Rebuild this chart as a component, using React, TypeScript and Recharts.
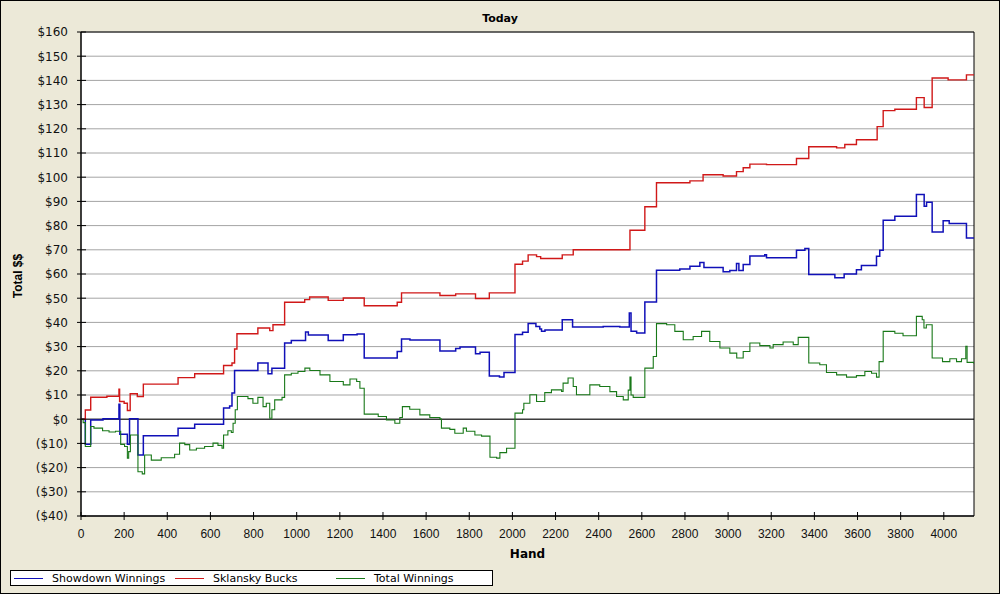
import { LineChart, Line, XAxis, YAxis, CartesianGrid, ReferenceLine, ReferenceArea } from "recharts";

// Showdown Winnings (blue)
const showdownHands = [0, 20, 45, 102, 176, 180, 215, 225, 264, 289, 450, 527, 661, 689, 700, 712, 820, 867, 885, 944, 975, 1041, 1054, 1146, 1216, 1280, 1313, 1466, 1486, 1525, 1664, 1737, 1757, 1829, 1850, 1893, 1940, 1961, 2012, 2047, 2073, 2109, 2127, 2135, 2151, 2231, 2279, 2421, 2498, 2542, 2550, 2576, 2614, 2668, 2776, 2823, 2869, 2888, 2977, 3008, 3039, 3050, 3070, 3101, 3170, 3178, 3317, 3356, 3374, 3495, 3538, 3595, 3618, 3688, 3703, 3719, 3773, 3873, 3909, 3920, 3946, 3997, 4025, 4105, 4140];
const showdownValues = [0, -10.4, -0.3, 0.2, 6.2, -6.2, -10.4, 0.2, -14.8, -6.8, -3.7, -2.1, 4.6, 5.5, 10.8, 20.1, 23.2, 18.8, 21.1, 31.5, 32.5, 36, 34.8, 32.5, 34.9, 35.2, 25.3, 28, 33.1, 32.7, 28.2, 29.2, 29.8, 27, 27.7, 17.8, 17.4, 19.3, 35, 35.9, 39.5, 38.3, 37.3, 36.3, 36.9, 41.1, 38.1, 38.3, 38.1, 43.9, 36.3, 35.6, 48.4, 61.5, 62.1, 63.2, 64.8, 62.7, 60.9, 61.4, 64.3, 61.4, 63.9, 67.4, 68, 66.7, 69.8, 70.5, 59.8, 58.4, 60, 61.8, 63.5, 67.3, 69.8, 82.2, 83.9, 92.9, 88, 89.7, 77.4, 82, 80.9, 74.9, 74.9];

// Sklansky Bucks (red)
const sklanskyHands = [0, 20, 45, 120, 176, 179, 200, 215, 228, 261, 289, 450, 527, 661, 700, 712, 723, 820, 875, 890, 944, 1037, 1060, 1146, 1216, 1313, 1466, 1486, 1664, 1737, 1829, 1893, 2012, 2047, 2073, 2112, 2131, 2231, 2282, 2545, 2614, 2668, 2823, 2884, 2977, 3039, 3070, 3101, 3178, 3317, 3374, 3503, 3541, 3595, 3691, 3719, 3773, 3873, 3909, 3946, 4020, 4105, 4140];
const sklanskyValues = [0, 3.8, 9.1, 9.5, 12.4, 7.3, 6.6, 3.6, 10.5, 9.4, 14.5, 17.2, 18.8, 22.2, 23.2, 29, 35.3, 37.7, 36.6, 39, 48.3, 49.4, 50.5, 49.1, 50.1, 46.9, 48.3, 52.2, 51.1, 51.8, 49.9, 52.2, 64, 65.3, 67.9, 67.2, 66.4, 67.9, 70, 78.1, 87.8, 97.7, 98.5, 101, 100.5, 102.3, 103.9, 105.4, 105.2, 107.7, 112.6, 112.1, 113.5, 115.5, 120.9, 127.5, 128.1, 132.9, 128.8, 141, 140.2, 142.3, 142.3];

// Total Winnings (green)
const totalHands = [0, 10, 20, 45, 60, 100, 130, 160, 184, 202, 215, 221, 229, 264, 284, 295, 326, 372, 434, 457, 481, 504, 535, 573, 612, 635, 654, 661, 681, 697, 705, 715, 725, 751, 774, 797, 820, 844, 859, 875, 885, 898, 932, 944, 975, 1006, 1038, 1061, 1108, 1154, 1216, 1247, 1278, 1293, 1313, 1378, 1416, 1455, 1478, 1490, 1524, 1571, 1617, 1664, 1671, 1710, 1733, 1772, 1787, 1826, 1857, 1896, 1927, 1942, 1973, 2012, 2047, 2053, 2081, 2112, 2150, 2181, 2228, 2235, 2258, 2282, 2297, 2359, 2405, 2452, 2483, 2514, 2537, 2545, 2550, 2560, 2614, 2653, 2668, 2715, 2753, 2792, 2838, 2877, 2915, 2962, 3008, 3040, 3070, 3101, 3147, 3194, 3209, 3255, 3302, 3325, 3374, 3425, 3456, 3503, 3549, 3595, 3634, 3665, 3688, 3700, 3719, 3773, 3811, 3873, 3900, 3908, 3919, 3946, 3994, 4028, 4059, 4082, 4102, 4108, 4140];
const totalValues = [0, -1.4, -11.3, -3, -3.7, -4.8, -5.3, -5, -10.4, -11.3, -16.1, -13.4, -6.5, -21.7, -22.6, -14.8, -16.9, -15.9, -14.5, -9.9, -10.5, -12.7, -12, -11.3, -9.9, -10.8, -12, -6.5, -4.8, -5.5, -1.7, 3.9, 9.4, 9.4, 8.5, 6.6, 9, 5.2, 6.6, 0.4, 3.9, 8, 9, 18.3, 19, 19.7, 21.1, 20.1, 18.3, 15.6, 14.2, 16.6, 15.6, 12.8, 2.1, 1.1, -0.3, -1.7, 0.7, 5.2, 4.1, 1.8, 0.7, 0.1, -3.7, -4.2, -5.8, -3.7, -5, -6.5, -7, -15.7, -16.1, -13.8, -12, 2.5, 3.9, 6.6, 10.1, 7.3, 11, 12.1, 11.5, 14.9, 17, 13.5, 10.1, 14.2, 13.5, 11.4, 9.4, 8, 12, 17.4, 10, 9, 21.1, 25.9, 39.5, 39, 36.3, 32.8, 34.2, 36.3, 32.1, 29.4, 27.3, 25.3, 28, 31.5, 30.4, 29.4, 30.8, 31.9, 30.8, 33.8, 23.2, 22.5, 19.3, 18.3, 17.4, 18, 19.7, 19, 17.4, 23.8, 36.3, 35.5, 34.5, 42.5, 41.1, 37.7, 39, 25.3, 23.8, 25, 23.8, 25, 30.1, 23.5, 22.9];

const xTicks = [0, 200, 400, 600, 800, 1000, 1200, 1400, 1600, 1800, 2000, 2200, 2400, 2600, 2800, 3000, 3200, 3400, 3600, 3800, 4000];
const yTicks = [-40, -30, -20, -10, 0, 10, 20, 30, 40, 50, 60, 70, 80, 90, 100, 110, 120, 130, 140, 150, 160];

const series = [
  { name: "Showdown Winnings", color: "#1010b8", width: 1.5, hands: showdownHands, values: showdownValues },
  { name: "Sklansky Bucks", color: "#d01818", width: 1.4, hands: sklanskyHands, values: sklanskyValues },
  { name: "Total Winnings", color: "#187818", width: 1.1, hands: totalHands, values: totalValues },
];

const money = (v: number) => (v < 0 ? `($${-v})` : `$${v}`);

function YTick(props: any) {
  const { x, y, payload } = props;
  return (
    <g>
      <line x1={x - 4} x2={x + 5} y1={y} y2={y} stroke="#000" />
      <text x={x - 13} y={y} dy={4.3} textAnchor="end" fontSize={12} fontFamily="DejaVu Sans" fill="#111">{money(payload.value)}</text>
    </g>
  );
}

function XTick(props: any) {
  const { x, y, payload } = props;
  return (
    <g>
      <line x1={x} x2={x} y1={y - 4} y2={y + 4} stroke="#000" />
      <text x={x} y={y + 22} textAnchor="middle" fontSize={12} fontFamily="Liberation Sans" fill="#111">{payload.value}</text>
    </g>
  );
}

export default function App() {
  const lines = series.map(s => ({ ...s, data: s.hands.map((h, i) => ({ hand: h, v: s.values[i] })) }));
  return (
    <div style={{ position: "fixed", left: 0, top: 0, width: 1000, height: 594, background: "#ece9d8", fontFamily: "DejaVu Sans" }}>
      <LineChart width={1000} height={594} margin={{ top: 32, right: 26, left: 0, bottom: 48 }}>
        <CartesianGrid vertical={false} stroke="#a4a4a4" fill="#fff" />
        <XAxis dataKey="hand" type="number" domain={[0, 4140]} ticks={xTicks} interval={0} height={30}
          axisLine={{ stroke: "#000" }} tickLine={false} tickSize={0} tickMargin={0} tick={<XTick />} allowDataOverflow />
        <YAxis type="number" domain={[-40, 160]} ticks={yTicks} interval={0} width={81}
          axisLine={{ stroke: "#000" }} tickLine={false} tickSize={0} tickMargin={0} tick={<YTick />} />
        <ReferenceLine y={0} stroke="#000" />
        <ReferenceArea x1={0} x2={4140} y1={-40} y2={160} fill="none" stroke="#000" fillOpacity={0} />
        {lines.map(s => (
          <Line key={s.name} data={s.data} dataKey="v" name={s.name} type="stepAfter" stroke={s.color}
            strokeWidth={s.width} dot={false} activeDot={false} isAnimationActive={false} />
        ))}
      </LineChart>
      <div style={{ position: "absolute", left: 0, width: 1000, top: 12, textAlign: "center", fontSize: 11, fontWeight: "bold" }}>Today</div>
      <div style={{ position: "absolute", left: 81, width: 893, top: 547, textAlign: "center", fontSize: 12, fontWeight: "bold" }}>Hand</div>
      <div style={{ position: "absolute", left: 18, top: 276, width: 0, height: 0 }}>
        <div style={{ position: "absolute", transform: "translate(-50%, -50%) rotate(-90deg)", whiteSpace: "nowrap", fontSize: 12, fontWeight: "bold", fontFamily: "Liberation Sans" }}>Total $$</div>
      </div>
      <div style={{ position: "absolute", left: 10, top: 570, width: 481, height: 14, background: "#fff", border: "1px solid #000", fontSize: 11 }}>
        {series.map((s, i) => (
          <div key={s.name} style={{ position: "absolute", left: [3, 164, 325][i], top: 0, height: 14, display: "flex", alignItems: "center", whiteSpace: "nowrap" }}>
            <span style={{ display: "inline-block", width: 29, height: 1, background: s.color, marginRight: 9 }} />
            <span>{s.name}</span>
          </div>
        ))}
      </div>
      <div style={{ position: "absolute", left: 0, top: 0, width: 998, height: 592, border: "1px solid #000", pointerEvents: "none" }} />
    </div>
  );
}
